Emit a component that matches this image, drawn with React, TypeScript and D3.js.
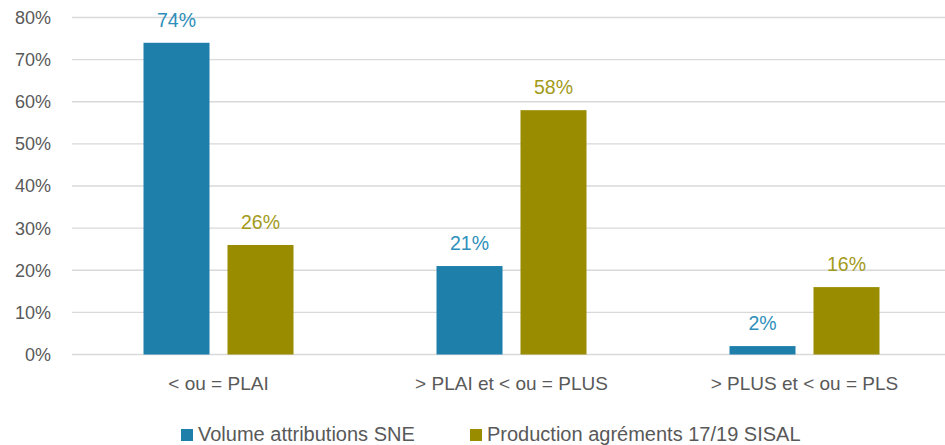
import React, { useEffect, useRef } from 'react';
import * as d3 from 'd3';

const categories = ['< ou = PLAI', '> PLAI et < ou = PLUS', '> PLUS et < ou = PLS'];
const seriesNames = ['Volume attributions SNE', 'Production agréments 17/19 SISAL'];
const sneValues = [74, 21, 2];
const sisalValues = [26, 58, 16];
const yTicks = [0, 10, 20, 30, 40, 50, 60, 70, 80];

const barColors = ['#1f7fab', '#9a8c00'];
const labelColors = ['#2f8fba', '#a39a1a'];

function Chart() {
  const ref = useRef<SVGSVGElement>(null);

  useEffect(() => {
    const svg = d3.select(ref.current);
    svg.selectAll('*').remove();

    const width = 945;
    const font = '"Liberation Sans", Arial, sans-serif';

    const x = d3.scaleBand().domain(categories).range([72, 951]);
    // two bars of 66px with an 18px gap, centred in each category band
    const inner = d3.scaleBand().domain(['0', '1']).range([71.5, 221.5]).paddingInner(0.214);
    const y = d3.scaleLinear().domain([0, 80]).range([354.5, 17.5]);

    // gridlines
    svg.append('g')
      .selectAll('line')
      .data(yTicks)
      .enter()
      .append('line')
      .attr('x1', 72)
      .attr('x2', width)
      .attr('y1', (d) => y(d))
      .attr('y2', (d) => y(d))
      .attr('stroke', '#d9d9d9')
      .attr('stroke-width', 1.3);

    // y labels
    svg.append('g')
      .selectAll('text')
      .data(yTicks)
      .enter()
      .append('text')
      .attr('x', 51)
      .attr('y', (d) => y(d))
      .attr('dy', '0.36em')
      .attr('text-anchor', 'end')
      .attr('font-family', font)
      .attr('font-size', 18)
      .attr('fill', '#595959')
      .text((d) => `${d}%`);

    const series = [sneValues, sisalValues];
    series.forEach((vals, si) => {
      const g = svg.append('g');
      g.selectAll('rect')
        .data(vals)
        .enter()
        .append('rect')
        .attr('x', (_, i) => x(categories[i]) + inner(String(si)))
        .attr('y', (d) => y(d))
        .attr('width', inner.bandwidth())
        .attr('height', (d) => y(0) - y(d))
        .attr('fill', barColors[si]);

      g.selectAll('text')
        .data(vals)
        .enter()
        .append('text')
        .attr('x', (_, i) => x(categories[i]) + inner(String(si)) + inner.bandwidth() / 2)
        .attr('y', (d) => y(d) - 16)
        .attr('text-anchor', 'middle')
        .attr('font-family', font)
        .attr('font-size', 19.5)
        .attr('fill', labelColors[si])
        .text((d) => `${d}%`);
    });

    // category labels
    svg.append('g')
      .selectAll('text')
      .data(categories)
      .enter()
      .append('text')
      .attr('x', (d) => x(d) + x.bandwidth() / 2)
      .attr('y', 390)
      .attr('text-anchor', 'middle')
      .attr('font-family', font)
      .attr('font-size', 19)
      .attr('fill', '#595959')
      .text((d) => d);

    // legend
    const legendX = [181, 470];
    seriesNames.forEach((name, i) => {
      svg.append('rect')
        .attr('x', legendX[i])
        .attr('y', 429)
        .attr('width', 12)
        .attr('height', 12)
        .attr('fill', barColors[i]);
      svg.append('text')
        .attr('x', legendX[i] + 17)
        .attr('y', 441)
        .attr('font-family', font)
        .attr('font-size', 20)
        .attr('fill', '#595959')
        .text(name);
    });
  }, []);

  return <svg ref={ref} width={945} height={445} style={{ position: 'absolute', left: 0, top: 0 }}></svg>;
}

export default function App() {
  return <Chart />;
}
